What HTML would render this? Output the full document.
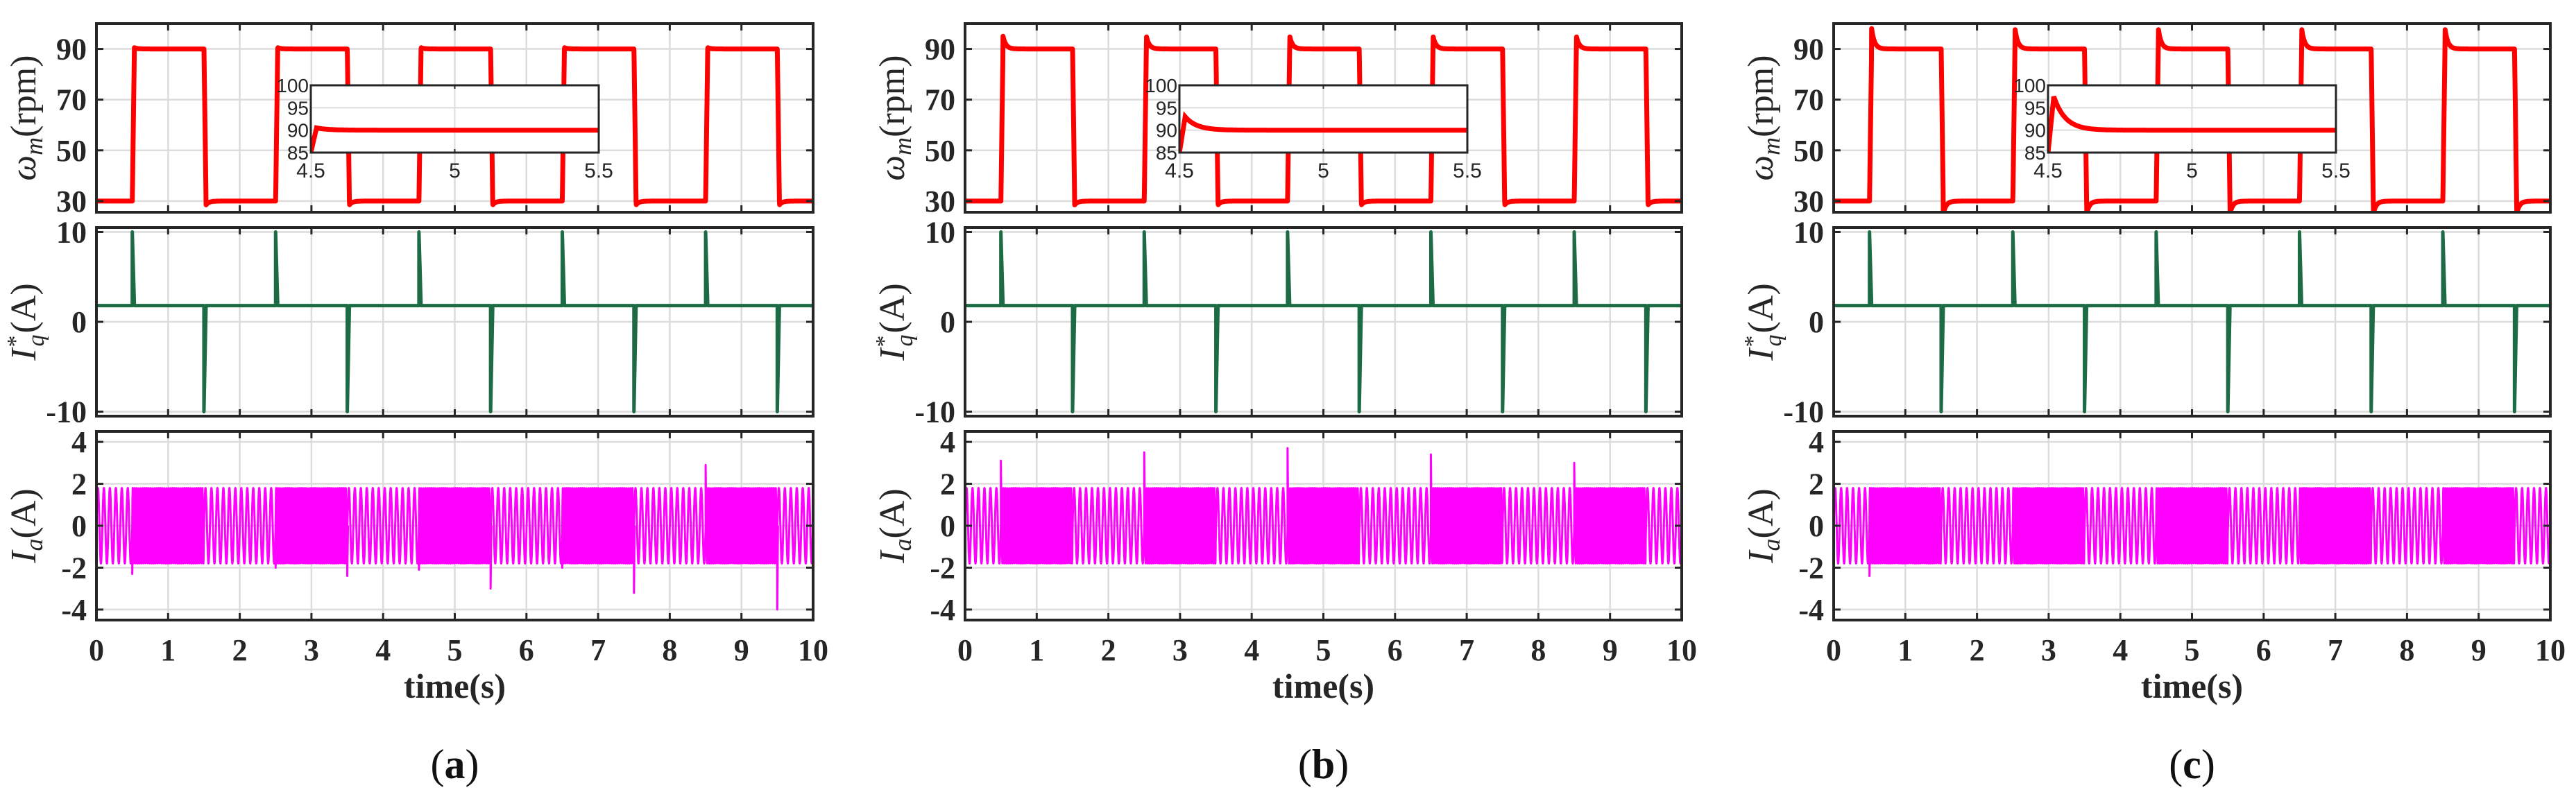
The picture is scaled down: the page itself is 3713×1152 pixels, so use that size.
<!DOCTYPE html>
<html><head><meta charset="utf-8"><style>
html,body{margin:0;padding:0;background:#fff;}
svg{display:block;}
</style></head><body>
<svg id="fig" width="3713" height="1152" viewBox="0 0 3713 1152" xmlns="http://www.w3.org/2000/svg"></svg>
<script>
// ---- data ----
const panelLabels = ['a','b','c'];
const xTicks = [0,1,2,3,4,5,6,7,8,9,10];
const speedTicks = [30,50,70,90];
const iqTicks = [-10,0,10];
const iaTicks = [-4,-2,0,2,4];
const insetYTicks = [85,90,95,100];
const insetXTicks = [4.5,5,5.5];
const stepTimes = [0.5,1.5,2.5,3.5,4.5,5.5,6.5,7.5,8.5,9.5];
const lowSpeed = 30;
const highSpeed = 90;
const overshootUp = [0.5, 5, 8];      // rpm above 90 at step-up, per panel
const undershootDown = [1.5, 1.5, 5]; // rpm below 30 at step-down, per panel
const iqBase = 1.8;
const iqUpSpike = 10;
const iqDownSpike = -10;
const iaAmplitude = 1.8;
const iaHzPerRpm = 0.4; // electrical Hz per rpm
const iaSpikesA = [-2.3,0,-2.0,-2.4,-2.1,-3.0,-2.0,-3.2,2.9,-4.0];
const iaSpikesB = [3.1,0,3.5,0,3.7,0,3.4,0,3.0,0];
const iaSpikesC = [-2.4,0,0,0,0,0,0,0,0,0];
const iaSpikes = [iaSpikesA, iaSpikesB, iaSpikesC];
const insetPeak = [90.5, 93, 97.5];

const NS='http://www.w3.org/2000/svg';
const svg=document.getElementById('fig');
function mk(tag,attrs,parent){const e=document.createElementNS(NS,tag);for(const k in attrs)e.setAttribute(k,attrs[k]);(parent||svg).appendChild(e);return e;}

const PW=1033, panelLeft=[139,1391,2643];
const rows=[{top:34,bot:306,min:25.6,max:100},{top:328,bot:600,min:-10.5,max:10.5},{top:622,bot:894,min:-4.5,max:4.5}];
const AX='#262626', GRID='#dcdcdc';

function speedAt(p,t){
  let idx=-1;for(let i=0;i<stepTimes.length;i++) if(t>=stepTimes[i]) idx=i;
  return idx<0?lowSpeed:(idx%2===0?highSpeed:lowSpeed);
}
function speedResp(p,t){
  let idx=-1;for(let i=0;i<stepTimes.length;i++) if(t>=stepTimes[i]) idx=i;
  if(idx<0) return lowSpeed;
  const dt=t-stepTimes[idx]; const up=idx%2===0;
  const tgt=up?highSpeed:lowSpeed, prev=up?lowSpeed:highSpeed;
  const rise=0.03;
  if(dt<rise) return prev+(tgt-prev)*dt/rise;
  const ov=up?overshootUp[p]:-undershootDown[p];
  return tgt+ov*Math.exp(-(dt-rise)/0.04);
}

panelLeft.forEach((L,p)=>{
  const g=mk('g',{});
  
  
  const xs=t=>L+t/10*PW;
  rows.forEach((r,ri)=>{
    const ys=v=>r.bot-(v-r.min)/(r.max-r.min)*(r.bot-r.top);
    const ticks=ri===0?speedTicks:(ri===1?iqTicks:iaTicks);
    const clipId='c'+p+ri;
    const cp=mk('clipPath',{id:clipId},g);mk('rect',{x:L,y:r.top,width:PW,height:r.bot-r.top},cp);
    xTicks.forEach(t=>{const l=mk('line',{x1:xs(t),x2:xs(t),y1:r.top,y2:r.bot,stroke:GRID,'stroke-width':2.5},g);
      });
    ticks.forEach(v=>{const l=mk('line',{x1:L,x2:L+PW,y1:ys(v),y2:ys(v),stroke:GRID,'stroke-width':2.5},g);
      });
    let d='';
    const color=ri===0?'#ff0000':(ri===1?'#1d6b45':'#ff00ff');
    if(ri===0){
      for(let t=0;t<=10;t+=0.002){d+=(d?'L':'M')+xs(t).toFixed(1)+','+ys(speedResp(p,t)).toFixed(1);}
    } else if(ri===1){
      d='M'+xs(0)+','+ys(iqBase);
      stepTimes.forEach((st,i)=>{const sp=i%2===0?iqUpSpike:iqDownSpike;
        d+='L'+xs(st)+','+ys(iqBase)+'L'+xs(st)+','+ys(sp)+'L'+xs(st+0.03)+','+ys(iqBase);});
      d+='L'+xs(10)+','+ys(iqBase);
    } else {
      let ph=0,prevT=0;
      for(let t=0;t<=10;t+=0.0012){
        ph+=2*Math.PI*iaHzPerRpm*speedAt(p,t)*(t-prevT);prevT=t;
        d+=(d?'L':'M')+xs(t).toFixed(1)+','+ys(iaAmplitude*Math.sin(ph)).toFixed(1);
      }
      stepTimes.forEach((st,i)=>{const s=iaSpikes[p][i];if(s!==0){d+='M'+xs(st)+','+ys(0)+'L'+xs(st)+','+ys(s)+'L'+xs(st+0.01)+','+ys(0);}});
    }
    const path=mk('path',{d:d,fill:'none',stroke:color,'stroke-width':ri===0?7:(ri===1?5:3),'clip-path':'url(#'+clipId+')','stroke-linejoin':'round'},g);
    
    
    xTicks.forEach(t=>{mk('line',{x1:xs(t),x2:xs(t),y1:r.top,y2:r.top+10,stroke:AX,'stroke-width':3},g);
      mk('line',{x1:xs(t),x2:xs(t),y1:r.bot,y2:r.bot-10,stroke:AX,'stroke-width':3},g);});
    ticks.forEach(v=>{mk('line',{x1:L,x2:L+10,y1:ys(v),y2:ys(v),stroke:AX,'stroke-width':3},g);
      mk('line',{x1:L+PW,x2:L+PW-10,y1:ys(v),y2:ys(v),stroke:AX,'stroke-width':3},g);
      const tx=mk('text',{x:L-14,y:ys(v)+15,'text-anchor':'end','font-family':'Liberation Serif, serif','font-weight':'bold','font-size':44,fill:AX},g);
      tx.textContent=v;});
    const box=mk('rect',{x:L,y:r.top,width:PW,height:r.bot-r.top,fill:'none',stroke:AX,'stroke-width':4},g);
    
    const cy=(r.top+r.bot)/2, cx=L-88;
    const yt=mk('text',{x:cx,y:cy,transform:'rotate(-90 '+cx+' '+cy+')','text-anchor':'middle','font-family':'Liberation Serif, serif','font-size':52,fill:AX},g);
    
    
    if(ri===0) yt.innerHTML='<tspan font-style="italic">ω</tspan><tspan font-style="italic" font-size="36" dy="10">m</tspan><tspan dy="-10">(rpm)</tspan>';
    else if(ri===1) yt.innerHTML='<tspan font-style="italic">I</tspan><tspan font-size="34" dx="2" dy="-18">*</tspan><tspan font-style="italic" font-size="34" dx="-16" dy="30">q</tspan><tspan dx="2" dy="-12">(A)</tspan>';
    else yt.innerHTML='<tspan font-style="italic">I</tspan><tspan font-style="italic" font-size="36" dy="10">a</tspan><tspan dy="-10">(A)</tspan>';
  });
  xTicks.forEach(t=>{const tx=mk('text',{x:xs(t),y:952,'text-anchor':'middle','font-family':'Liberation Serif, serif','font-weight':'bold','font-size':44,fill:AX},g);
    tx.textContent=t;});
  const xt=mk('text',{x:L+PW/2,y:1006,'text-anchor':'middle','font-family':'Liberation Serif, serif','font-weight':'bold','font-size':50,fill:AX},g);
  xt.textContent='time(s)';
  const lb=mk('text',{x:L+PW/2,y:1122,'text-anchor':'middle','font-family':'Liberation Serif, serif','font-size':60,fill:'#111'},g);
  lb.innerHTML='(<tspan font-weight="bold">'+panelLabels[p]+'</tspan>)';
  

  // inset
  const IL=L+309, IR=L+724, IT=123, IB=220;
  const ix=t=>IL+(t-4.5)*(IR-IL);
  const iy=v=>IB-(v-85)/15*(IB-IT);
  const ig=mk('g',{},g);
  mk('rect',{x:IL,y:IT,width:IR-IL,height:IB-IT,fill:'#fff'},ig);
  insetXTicks.forEach(t=>mk('line',{x1:ix(t),x2:ix(t),y1:IT,y2:IB,stroke:GRID,'stroke-width':2},ig));
  insetYTicks.forEach(v=>mk('line',{x1:IL,x2:IR,y1:iy(v),y2:iy(v),stroke:GRID,'stroke-width':2},ig));
  const icp=mk('clipPath',{id:'ic'+p},ig);mk('rect',{x:IL,y:IT,width:IR-IL,height:IB-IT},icp);
  let id='';
  for(let t=4.5;t<=5.5;t+=0.002){
    let v;const dt=t-4.5;
    if(dt<0.02) v=85+(insetPeak[p]-85)*dt/0.02;
    else v=90+(insetPeak[p]-90)*Math.exp(-(dt-0.02)/0.04);
    id+=(id?'L':'M')+ix(t).toFixed(1)+','+iy(v).toFixed(1);
  }
  const ip=mk('path',{d:id,fill:'none',stroke:'#ff0000','stroke-width':7,'clip-path':'url(#ic'+p+')'},ig);
  
  mk('rect',{x:IL,y:IT,width:IR-IL,height:IB-IT,fill:'none',stroke:AX,'stroke-width':3},ig);
  insetXTicks.forEach(t=>{mk('line',{x1:ix(t),x2:ix(t),y1:IT,y2:IT+5,stroke:AX,'stroke-width':2},ig);
    mk('line',{x1:ix(t),x2:ix(t),y1:IB,y2:IB-5,stroke:AX,'stroke-width':2},ig);
    const tx=mk('text',{x:ix(t),y:IB+36,'text-anchor':'middle','font-family':'Liberation Sans, sans-serif','font-size':30,fill:AX},ig);
    tx.textContent=t;});
  insetYTicks.forEach(v=>{const tx=mk('text',{x:IL-3,y:iy(v)+10,'text-anchor':'end','font-family':'Liberation Sans, sans-serif','font-size':28,fill:AX},ig);
    tx.textContent=v;});
});
</script>
</body></html>
